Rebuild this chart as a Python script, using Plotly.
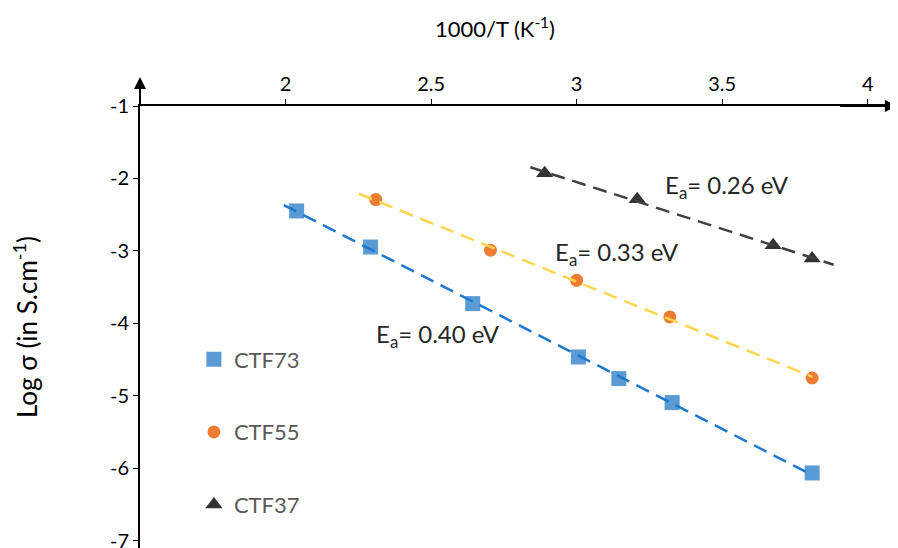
import numpy as np
import plotly.graph_objects as go

# Data
x_ctf73 = [2.038, 2.292, 2.643, 3.006, 3.145, 3.328, 3.809]
y_ctf73 = [-2.448, -2.945, -3.726, -4.462, -4.760, -5.091, -6.062]

x_ctf55 = [2.310, 2.704, 3.000, 3.320, 3.809]
y_ctf55 = [-2.291, -2.990, -3.404, -3.910, -4.752]

x_ctf37 = [2.890, 3.208, 3.675, 3.809]
y_ctf37 = [-1.928, -2.287, -2.921, -3.105]

# Trendline x extents
trend_x73 = [1.994, 3.81]
trend_x55 = [2.252, 3.81]
trend_x37 = [2.841, 3.883]

ea_labels = ["E<sub>a</sub>= 0.40 eV", "E<sub>a</sub>= 0.33 eV", "E<sub>a</sub>= 0.26 eV"]
ea_pos_x = [2.525, 3.140, 3.518]
ea_pos_y = [-4.16, -3.03, -2.11]

x_ticks = [2, 2.5, 3, 3.5, 4]
y_ticks = [-1, -2, -3, -4, -5, -6, -7]

FONT = "Lato, 'Open Sans', sans-serif"

fig = go.Figure()

series = [
    ("CTF73", x_ctf73, y_ctf73, "square", 15, "#5B9BD5"),
    ("CTF55", x_ctf55, y_ctf55, "circle", 13, "#ED7D31"),
    ("CTF37", x_ctf37, y_ctf37, "triangle-up", 15, "#333333"),
]
for i, (name, xs, ys, sym, sz, col) in enumerate(series):
    fig.add_trace(go.Scatter(
        x=xs, y=ys, mode="markers", name=name,
        marker=dict(symbol=sym, size=sz, color=col, line=dict(width=0)),
        legendgroup=f"g{i}",
    ))

trends = [
    (x_ctf73, y_ctf73, trend_x73, "#1C78CC"),
    (x_ctf55, y_ctf55, trend_x55, "#FFD54F"),
    (x_ctf37, y_ctf37, trend_x37, "#404040"),
]
for xs, ys, tx, col in trends:
    m, b = np.polyfit(xs, ys, 1)
    tx = np.array(tx)
    fig.add_trace(go.Scatter(
        x=tx, y=m * tx + b, mode="lines", showlegend=False,
        line=dict(color=col, width=2.5, dash="14px,8px"), hoverinfo="skip",
    ))

for txt, ax_, ay_ in zip(ea_labels, ea_pos_x, ea_pos_y):
    fig.add_annotation(x=ax_, y=ay_, text=txt, showarrow=False,
                       font=dict(family=FONT, size=24, color="#262626"))

# x-axis title (placed as in the reference, left of plot centre)
fig.add_annotation(x=0.474, y=1.178, xref="paper", yref="paper",
                   xanchor="center", yanchor="middle",
                   text="1000/T (K<sup>-1</sup>)", showarrow=False,
                   font=dict(family=FONT, size=22, color="black"))

# axis arrows
fig.add_annotation(x=1.5, y=-0.6, ax=1.5, ay=-1.0, axref="x", ayref="y",
                   xref="x", yref="y", showarrow=True, arrowhead=2,
                   arrowsize=1.2, arrowwidth=2, arrowcolor="black", text="")
fig.add_annotation(x=4.1, y=-1.0, ax=3.9, ay=-1.0, axref="x", ayref="y",
                   xref="x", yref="y", showarrow=True, arrowhead=2,
                   arrowsize=1.2, arrowwidth=2, arrowcolor="black", text="")

fig.update_layout(
    width=890, height=540,
    margin=dict(l=132, r=9, t=98, b=0, autoexpand=False),
    paper_bgcolor="white", plot_bgcolor="white",
    font=dict(family=FONT, size=20, color="black"),
    legend=dict(x=0.072, y=0.474, xanchor="left", yanchor="top",
                font=dict(size=22, color="#595959"),
                tracegroupgap=41, bgcolor="rgba(0,0,0,0)"),
    xaxis=dict(
        range=[1.5, 4.073], side="top", tickvals=x_ticks,
        ticktext=[str(v) for v in x_ticks],
        showline=True, linecolor="black", linewidth=2,
        ticks="outside", ticklen=5, tickcolor="black", tickwidth=1,
        showgrid=False, zeroline=False, automargin=False,
        tickfont=dict(size=20),
    ),
    yaxis=dict(
        range=[-7.097, -1], tickvals=y_ticks,
        ticktext=[str(v) for v in y_ticks],
        showline=True, linecolor="black", linewidth=2,
        ticks="outside", ticklen=5, tickcolor="black", tickwidth=1,
        showgrid=False, zeroline=False, automargin=False,
        ticklabeloverflow="allow",
        title=dict(text="Log σ (in S.cm<sup>-1</sup>)", standoff=70,
                   font=dict(size=26)),
        tickfont=dict(size=20),
    ),
)

fig.write_html("out.html")
